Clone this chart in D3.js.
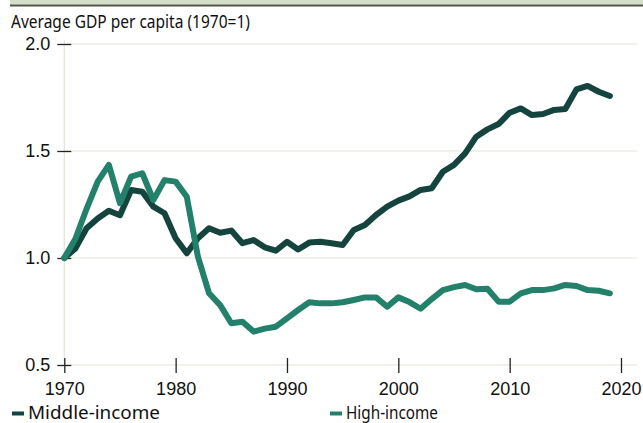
<!DOCTYPE html>
<html><head><meta charset="utf-8">
<script src="https://cdn.jsdelivr.net/npm/d3@7"></script>
<style>
html,body{margin:0;padding:0;background:#fff;}
svg{display:block;}
.cond{font-family:"Noto Sans","Open Sans",sans-serif;}
</style></head>
<body>
<svg id="c" width="643" height="423"></svg>
<script>
const years = d3.range(1970, 2020);
const middleIncome = [1.00,1.045,1.139,1.185,1.221,1.20,1.318,1.31,1.24,1.209,
  1.092,1.022,1.092,1.139,1.118,1.128,1.069,1.084,1.05,1.034,
  1.076,1.04,1.072,1.076,1.069,1.061,1.131,1.154,1.201,1.24,
  1.268,1.288,1.318,1.326,1.403,1.435,1.489,1.567,1.601,1.626,
  1.679,1.699,1.668,1.673,1.692,1.696,1.788,1.804,1.777,1.757];
const highIncome = [1.00,1.09,1.23,1.357,1.435,1.256,1.38,1.396,1.271,1.364,
  1.357,1.286,1.006,0.835,0.78,0.695,0.702,0.656,0.67,0.679,
  0.718,0.757,0.793,0.788,0.788,0.793,0.804,0.816,0.816,0.772,
  0.816,0.794,0.763,0.808,0.85,0.864,0.874,0.854,0.856,0.796,
  0.796,0.835,0.85,0.85,0.858,0.874,0.869,0.85,0.847,0.835];
const yTicks = [0.5, 1.0, 1.5, 2.0];
const xTicks = [1970, 1980, 1990, 2000, 2010, 2020];
const title = "Average GDP per capita (1970=1)";
const seriesNames = ["Middle-income", "High-income"];
const colors = ["#15443f", "#23806b"];

const svg = d3.select("#c");
const x = d3.scaleLinear().domain([1970, 2020]).range([64.3, 621]);
const y = d3.scaleLinear().domain([0.5, 2.0]).range([365, 44]);

// top band
svg.append("rect").attr("x", 10).attr("y", 0).attr("width", 633).attr("height", 4.5).attr("fill", "#d4dfc7");
svg.append("rect").attr("x", 10).attr("y", 4.5).attr("width", 633).attr("height", 2).attr("fill", "#4d5545");

// title
svg.append("text").attr("class", "cond").attr("x", 11).attr("y", 27.5)
  .attr("font-size", 17.5).attr("fill", "#111")
  .attr("textLength", 239).attr("lengthAdjust", "spacingAndGlyphs").text(title);

// gridlines
svg.append("g").selectAll("line").data(yTicks).join("line")
  .attr("x1", x(1970)).attr("x2", 637)
  .attr("y1", d => y(d)).attr("y2", d => y(d))
  .attr("stroke", "#dfe7d5").attr("stroke-width", 1.2);
// vertical axis line
svg.append("line").attr("x1", x(1970)).attr("x2", x(1970))
  .attr("y1", y(2.0) - 4).attr("y2", y(0.5))
  .attr("stroke", "#dfe7d5").attr("stroke-width", 1.2);

// y axis ticks
const yAxis = d3.axisLeft(y).tickValues(yTicks).tickFormat(d3.format(".1f")).tickSize(7).tickPadding(8);
const gy = svg.append("g").attr("transform", `translate(${x(1970)},0)`).call(yAxis);
gy.select(".domain").remove();
gy.selectAll(".tick line").attr("x2", 7).attr("x1", -7).attr("stroke", "#222").attr("stroke-width", 1.3);
gy.selectAll(".tick text").attr("font-size", 18).attr("fill", "#111").attr("font-family", '"Liberation Sans",Arial,sans-serif').attr("x", -14);

// x axis ticks
const xAxis = d3.axisBottom(x).tickValues(xTicks).tickFormat(d3.format("d")).tickSize(8).tickPadding(10);
const gx = svg.append("g").attr("transform", `translate(0,${y(0.5)})`).call(xAxis);
gx.select(".domain").remove();
gx.selectAll(".tick line").attr("y1", -7).attr("y2", 8).attr("stroke", "#222").attr("stroke-width", 1.3);
gx.selectAll(".tick text").attr("font-size", 18).attr("fill", "#111").attr("font-family", '"Liberation Sans",Arial,sans-serif').attr("y", 17);

// lines
const line = d3.line().x((d, i) => x(years[i])).y(d => y(d));
[middleIncome, highIncome].forEach((s, k) => {
  svg.append("path").datum(s).attr("d", line).attr("fill", "none")
    .attr("stroke", colors[k]).attr("stroke-width", 6)
    .attr("stroke-linejoin", "round").attr("stroke-linecap", "round");
});

// legend
const legX = [12, 330];
const legW = [132, 92];
seriesNames.forEach((n, k) => {
  svg.append("line").attr("x1", legX[k]).attr("x2", legX[k] + 12)
    .attr("y1", 413.5).attr("y2", 413.5).attr("stroke", colors[k]).attr("stroke-width", 4);
  svg.append("text").attr("class", "cond").attr("x", legX[k] + 16).attr("y", 419)
    .attr("font-size", 17.5).attr("fill", "#111")
    .attr("textLength", legW[k]).attr("lengthAdjust", "spacingAndGlyphs").text(n);
});
</script>
</body></html>
